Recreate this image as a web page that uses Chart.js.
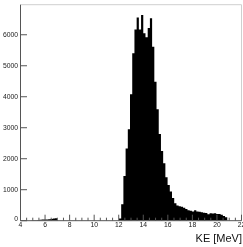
<!DOCTYPE html>
<html>
<head>
<meta charset="utf-8">
<script src="https://cdn.jsdelivr.net/npm/chart.js@4.4.1/dist/chart.umd.min.js"></script>
<style>
  html, body { margin: 0; padding: 0; background: #fff; }
  #wrap { width: 243px; height: 247px; }
</style>
</head>
<body>
<div id="wrap"><canvas id="keChart" width="243" height="247"></canvas></div>
<script>
// histogram: 100 bins of 0.18 MeV
const binLow = 4.1;
const binWidth = 0.18;
const counts = [
  0, 0, 0, 0, 0,
  8, 12, 18, 25, 30, 35, 40, 42, 48, 55, 68, 80,
  0, 0, 0, 0, 0, 0, 0, 0, 0, 0, 0, 0, 0, 0, 0, 0, 0, 0, 0, 0, 0, 0, 0, 0, 0, 0, 0, 0,
  70, 530, 1440, 2330, 2950, 4080, 5400, 6170, 6560, 6170,
  6640, 6050, 5920, 6220, 6530, 5610, 4480, 3600, 2800, 2250,
  1850, 1400, 1150, 940, 730, 560, 490, 470, 450, 420,
  380, 340, 320, 300, 340, 300, 290, 270, 260, 250,
  210, 240, 230, 240, 220, 220, 190, 150, 110, 0,
  0, 0, 0, 0, 0, 0
];
const xTicks = [4, 6, 8, 10, 12, 14, 16, 18, 20, 22];
const yTicks = [0, 1000, 2000, 3000, 4000, 5000, 6000];
const xTitle = 'KE [MeV]';

const points = counts.map((c, i) => ({ x: binLow + i * binWidth, y: c }));
points.push({ x: binLow + counts.length * binWidth, y: 0 });

// ROOT-like frame, inward ticks, labels
const rootAxes = {
  id: 'rootAxes',
  afterDraw(chart) {
    const { ctx, chartArea: a, scales: { x, y } } = chart;
    ctx.save();
    // top and right frame
    ctx.strokeStyle = '#cfcfcf';
    ctx.lineWidth = 1;
    ctx.beginPath();
    ctx.moveTo(a.left, a.top);
    ctx.lineTo(a.right, a.top);
    ctx.lineTo(a.right, a.bottom);
    ctx.stroke();

    ctx.strokeStyle = '#555';
    ctx.beginPath();
    ctx.moveTo(a.left, a.top);
    ctx.lineTo(a.left, a.bottom);
    ctx.lineTo(a.right, a.bottom);
    ctx.stroke();

    // y ticks
    ctx.fillStyle = '#1a1a1a';
    ctx.font = '6.8px "Liberation Sans", Arial, sans-serif';
    ctx.textAlign = 'right';
    ctx.textBaseline = 'middle';
    yTicks.forEach(v => {
      const py = y.getPixelForValue(v);
      ctx.beginPath();
      ctx.moveTo(a.left, py);
      ctx.lineTo(a.left + 6.5, py);
      ctx.stroke();
      ctx.fillText(String(v), a.left - 2.5, py - (v === 0 ? 2 : 0));
    });

    // x ticks: major every 2, minor every 0.5
    for (let v = 4; v <= 22.001; v += 0.5) {
      const px = x.getPixelForValue(v);
      const major = Math.abs(v / 2 - Math.round(v / 2)) < 1e-6;
      const len = major ? 6 : 3;
      ctx.beginPath();
      ctx.moveTo(px, a.bottom);
      ctx.lineTo(px, a.bottom - len);
      ctx.stroke();
    }
    ctx.textAlign = 'center';
    ctx.textBaseline = 'top';
    xTicks.forEach(v => {
      ctx.fillText(String(v), x.getPixelForValue(v), a.bottom + 0.8);
    });

    // axis title
    ctx.fillStyle = '#111';
    ctx.font = '11px "Liberation Sans", Arial, sans-serif';
    ctx.textAlign = 'right';
    ctx.textBaseline = 'alphabetic';
    ctx.fillText(xTitle, a.right + 0.5, 242);
    ctx.restore();
  }
};

new Chart(document.getElementById('keChart'), {
  type: 'line',
  data: {
    datasets: [{
      data: points,
      stepped: 'after',
      fill: 'origin',
      backgroundColor: '#000',
      borderColor: 'rgba(0,0,0,0)',
      borderWidth: 0,
      pointRadius: 0
    }]
  },
  options: {
    responsive: false,
    animation: false,
    layout: { padding: { left: 20.5, right: 1.5, top: 4.7, bottom: 26.3 } },
    plugins: { legend: { display: false }, tooltip: { enabled: false } },
    scales: {
      x: { type: 'linear', min: 4, max: 22, display: false },
      y: { min: 0, max: 6970, display: false }
    }
  },
  plugins: [rootAxes]
});
</script>
</body>
</html>
